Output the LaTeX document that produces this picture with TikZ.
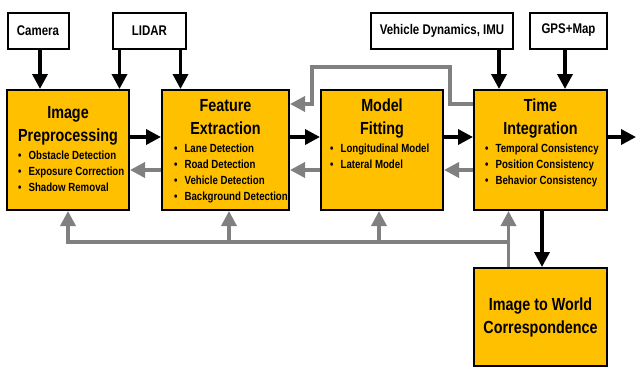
\documentclass[tikz,border=0pt]{standalone}
\usepackage{fontspec}
\setmainfont{Liberation Sans}[FakeStretch=0.82]
\usetikzlibrary{positioning,arrows.meta}
\definecolor{boxorange}{RGB}{255,192,0}
\definecolor{backgray}{RGB}{128,128,128}

\tikzset{
  stage/.style={draw,rectangle,line width=2pt,fill=boxorange,inner sep=0pt},
  source/.style={draw,rectangle,line width=2pt,fill=white,inner sep=0pt,font=\fontsize{14}{16}\selectfont\bfseries},
  title/.style={inner sep=0pt,align=center,font=\fontsize{17.5}{23}\selectfont\bfseries},
  items/.style={inner sep=0pt,align=left,font=\fontsize{11.8}{16}\selectfont\bfseries},
  fwd/.style={->,line width=3.5pt,black},
  back/.style={->,line width=3.5pt,backgray},
  >={Triangle[length=15pt,width=15pt]}
}
\newcommand{\bul}{\textbullet\hspace{7pt}}

\begin{document}
\begin{tikzpicture}[x=1pt,y=-1pt]
\useasboundingbox (0,0) rectangle (636,368);
% sensors
\node[source,minimum width=61pt,minimum height=36pt] (cam) at (38,30.5) {Camera};
\node[source,minimum width=73pt,minimum height=36pt] (lidar) at (149.5,30.5) {LIDAR};
\node[source,minimum width=142pt,minimum height=36pt] (vdyn) at (442,30.5) {Vehicle Dynamics, IMU};
\node[source,minimum width=77pt,minimum height=36pt] (gps) at (568.5,30.5) {GPS+Map};
% stages
\node[stage,minimum width=122pt,minimum height=120pt] (imgpre) at (68,150) {};
\node[stage,minimum width=127pt,minimum height=120pt] (featext) at (225.5,150) {};
\node[stage,minimum width=122pt,minimum height=120pt] (modfit) at (382,150) {};
\node[stage,minimum width=133pt,minimum height=120pt] (timeint) at (540.5,150) {};
\node[stage,minimum width=133pt,minimum height=98pt] (imgworld) at (540.5,317) {};
% texts
\node[title,below=17pt of imgpre.north] (imgpre-t) {Image\\Preprocessing};
\node[items,below right=62pt and 12pt of imgpre.north west] (imgpre-l) {\bul Obstacle Detection\\\bul Exposure Correction\\\bul Shadow Removal};
\node[title,below=10pt of featext.north] (featext-t) {Feature\\Extraction};
\node[items,below right=54.5pt and 13pt of featext.north west] (featext-l) {\bul Lane Detection\\\bul Road Detection\\\bul Vehicle Detection\\\bul Background Detection};
\node[title,below=10pt of modfit.north] (modfit-t) {Model\\Fitting};
\node[items,below right=54.5pt and 10pt of modfit.north west] (modfit-l) {\bul Longitudinal Model\\\bul Lateral Model};
\node[title,below=10pt of timeint.north] (timeint-t) {Time\\Integration};
\node[items,below right=54.5pt and 12pt of timeint.north west] (timeint-l) {\bul Temporal Consistency\\\bul Position Consistency\\\bul Behavior Consistency};
\node[title,align=center] (imgworld-t) at (imgworld) {Image to World\\Correspondence};
% sensor inputs
\draw[fwd] ([xshift=2pt]cam.south) -- ([xshift=2pt]cam.south |- imgpre.north);
\draw[fwd] ([xshift=-30pt]lidar.south) -- ([xshift=-30pt]lidar.south |- imgpre.north);
\draw[fwd] ([xshift=31pt]lidar.south) -- ([xshift=31pt]lidar.south |- featext.north);
\draw[fwd] ([xshift=57pt]vdyn.south) -- ([xshift=57pt]vdyn.south |- timeint.north);
\draw[fwd] ([xshift=-3.5pt]gps.south) -- ([xshift=-3.5pt]gps.south |- timeint.north);
% forward chain
\coordinate (out) at (636,137);
\draw[fwd] ([yshift=13pt]imgpre.east) -- ([yshift=13pt]featext.west);
\draw[fwd] ([yshift=13pt]featext.east) -- ([yshift=13pt]modfit.west);
\draw[fwd] ([yshift=13pt]modfit.east) -- ([yshift=13pt]timeint.west);
\draw[fwd] ([yshift=13pt]timeint.east) -- (out);
\draw[fwd] ([xshift=1.5pt]timeint.south) -- ([xshift=1.5pt]imgworld.north);
% feedback
\draw[back] ([yshift=-20pt]featext.west) -- ([yshift=-20pt]imgpre.east);
\draw[back] ([yshift=-20pt]modfit.west) -- ([yshift=-20pt]featext.east);
\draw[back] ([yshift=-20pt]timeint.west) -- ([yshift=-20pt]modfit.east);
\coordinate (loopa) at (450,67);
\coordinate (loopb) at (312,67);
\draw[back] ([yshift=46pt]timeint.west) -| (loopa) -- (loopb) |- ([yshift=46pt]featext.east);
% bottom bus
\coordinate (busw) at (68,242);
\coordinate (bfe) at (229,242);
\coordinate (bmf) at (379,242);
\coordinate (buse) at (508.5,242);
\draw[back] ([xshift=-32pt]imgworld.north) -- ([xshift=-32pt]imgworld.north |- timeint.south);
\draw[backgray,line width=3.5pt,line cap=rect] (buse) -- (busw);
\draw[back] (busw) -- (busw |- imgpre.south);
\draw[back] (bfe) -- (bfe |- featext.south);
\draw[back] (bmf) -- (bmf |- modfit.south);
\end{tikzpicture}
\end{document}
